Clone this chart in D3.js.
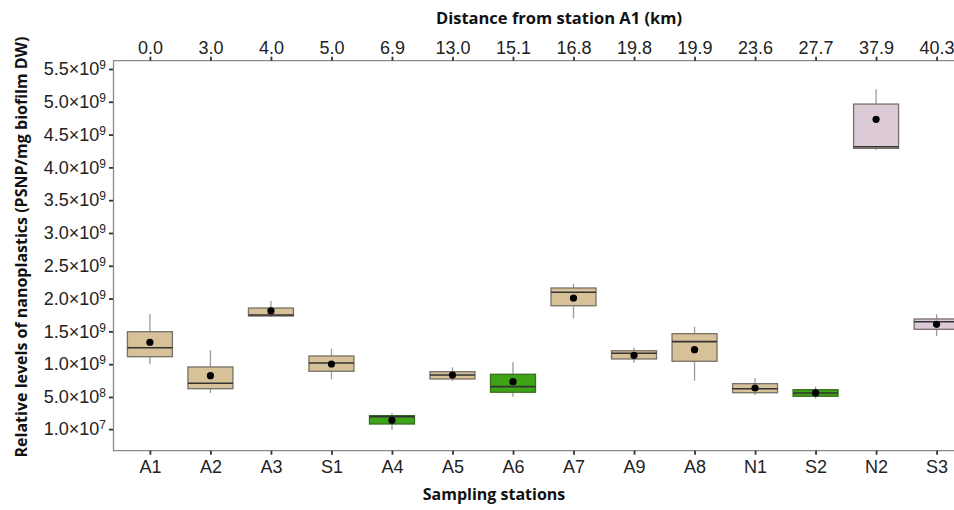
<!DOCTYPE html>
<html>
<head>
<meta charset="utf-8">
<script src="https://cdn.jsdelivr.net/npm/d3@7"></script>
<style>
  body { margin: 0; background: #fff; }
  svg { display: block; font-family: "Open Sans", sans-serif; }
</style>
</head>
<body>
<div id="chart"></div>
<script>
// stations along the river, with their distance from A1
const stations = ["A1", "A2", "A3", "S1", "A4", "A5", "A6", "A7", "A9", "A8", "N1", "S2", "N2", "S3"];
const distances = ["0.0", "3.0", "4.0", "5.0", "6.9", "13.0", "15.1", "16.8", "19.8", "19.9", "23.6", "27.7", "37.9", "40.3"];
const groups = ["tan", "tan", "tan", "tan", "green", "tan", "green", "tan", "tan", "tan", "tan", "green", "pink", "pink"];

// box stats (PSNP/mg biofilm DW)
const whiskerLow = [0.998e9, 0.561e9, 1.72e9, 0.770e9, 0.0e9, 0.744e9, 0.504e9, 1.699e9, 1.023e9, 0.748e9, 0.530e9, 0.48e9, 4.264e9, 1.43e9];
const q1 = [1.114e9, 0.626e9, 1.734e9, 0.892e9, 0.088e9, 0.774e9, 0.572e9, 1.891e9, 1.079e9, 1.044e9, 0.565e9, 0.511e9, 4.29e9, 1.532e9];
const median = [1.251e9, 0.709e9, 1.75e9, 1.018e9, 0.200e9, 0.835e9, 0.657e9, 2.096e9, 1.166e9, 1.343e9, 0.626e9, 0.561e9, 4.314e9, 1.647e9];
const q3 = [1.495e9, 0.957e9, 1.856e9, 1.125e9, 0.215e9, 0.885e9, 0.846e9, 2.161e9, 1.205e9, 1.465e9, 0.703e9, 0.611e9, 4.965e9, 1.689e9];
const whiskerHigh = [1.765e9, 1.212e9, 1.963e9, 1.236e9, 0.251e9, 0.953e9, 1.029e9, 2.222e9, 1.251e9, 1.571e9, 0.789e9, 0.657e9, 5.189e9, 1.76e9];
const means = [1.334e9, 0.824e9, 1.811e9, 1.003e9, 0.145e9, 0.835e9, 0.733e9, 2.009e9, 1.135e9, 1.221e9, 0.637e9, 0.561e9, 4.732e9, 1.608e9];

const yTicks = [1e7, 5e8, 1e9, 1.5e9, 2e9, 2.5e9, 3e9, 3.5e9, 4e9, 4.5e9, 5e9, 5.5e9];

const colors = { tan: "#d6c199", green: "#3fa318", pink: "#dccad6" };

const width = 954, height = 510;
const plotTop = 60.7, plotBottom = 450.7, plotLeft = 113;

const rows = stations.map((s, i) => ({
  station: s, dist: distances[i], group: groups[i],
  lo: whiskerLow[i], q1: q1[i], med: median[i], q3: q3[i], hi: whiskerHigh[i], mean: means[i]
}));

const svg = d3.select("#chart").append("svg")
    .attr("width", width)
    .attr("height", height);

const x = d3.scalePoint()
    .domain(stations)
    .range([plotLeft, 973.5])
    .padding(0.61);

const y = d3.scaleLinear()
    .domain([-0.319e9, 5.626e9])
    .range([plotBottom, plotTop]);

const boxW = 45;

// superscript formatter for the y labels
function sciLabel(sel) {
  sel.each(function(d) {
    const exp = Math.floor(Math.log10(d));
    const mant = (d / Math.pow(10, exp)).toFixed(1);
    const t = d3.select(this).text(null);
    t.append("tspan").text(mant + "\u00d710");
    t.append("tspan").attr("dy", "-0.5em").attr("font-size", "12px").text(exp);
  });
}

// axes
const yAxis = svg.append("g")
    .attr("transform", `translate(${plotLeft},0)`)
    .call(d3.axisLeft(y).tickValues(yTicks).tickSize(4).tickPadding(3).tickSizeOuter(0));

const xAxis = svg.append("g")
    .attr("transform", `translate(0,${plotBottom})`)
    .call(d3.axisBottom(x).tickSize(4).tickPadding(6).tickSizeOuter(0));

const topAxis = svg.append("g")
    .attr("transform", `translate(0,${plotTop})`)
    .call(d3.axisTop(x).tickSize(4).tickPadding(3).tickSizeOuter(0)
      .tickFormat((d, i) => distances[i]));

[yAxis, xAxis, topAxis].forEach(g => {
  g.select(".domain").attr("stroke", "#8a8a8a").attr("stroke-width", 1.3);
  g.selectAll(".tick line").attr("stroke", "#333").attr("stroke-width", 1.8);
  g.selectAll(".tick text").attr("fill", "#222").attr("font-size", "18px");
});
yAxis.selectAll(".tick text").call(sciLabel);

// top and bottom axis lines run to the right edge
topAxis.select(".domain").attr("d", `M${plotLeft},0H${width}`);
xAxis.select(".domain").attr("d", `M${plotLeft},0H${width}`);

// boxes
const box = svg.append("g").selectAll("g")
    .data(rows)
    .join("g")
    .attr("transform", d => `translate(${x(d.station)},0)`);

box.append("line")
    .attr("y1", d => y(d.hi))
    .attr("y2", d => y(d.lo))
    .attr("stroke", "#9a9a9a")
    .attr("stroke-width", 1.3);

box.append("rect")
    .attr("x", -boxW / 2)
    .attr("width", boxW)
    .attr("y", d => y(d.q3))
    .attr("height", d => y(d.q1) - y(d.q3))
    .attr("fill", d => colors[d.group])
    .attr("stroke", d => d.group == "green" ? "#3a6e22" : "#777066")
    .attr("stroke-width", 1.3);

box.append("line")
    .attr("x1", -boxW / 2)
    .attr("x2", boxW / 2)
    .attr("y1", d => y(d.med))
    .attr("y2", d => y(d.med))
    .attr("stroke", "#333")
    .attr("stroke-width", 1.6);

box.append("circle")
    .attr("cy", d => y(d.mean))
    .attr("r", 3.6)
    .attr("fill", "#000");

// titles
svg.append("text")
    .attr("x", 559).attr("y", 24)
    .attr("text-anchor", "middle")
    .attr("font-weight", "bold")
    .attr("font-size", "16.5px")
    .attr("fill", "#111")
    .text("Distance from station A1 (km)");

svg.append("text")
    .attr("x", 494).attr("y", 500)
    .attr("text-anchor", "middle")
    .attr("font-weight", "bold")
    .attr("font-size", "16px")
    .attr("fill", "#111")
    .text("Sampling stations");

svg.append("text")
    .attr("transform", "translate(27,247) rotate(-90)")
    .attr("text-anchor", "middle")
    .attr("font-weight", "bold")
    .attr("font-size", "16px")
    .attr("fill", "#111")
    .text("Relative levels of nanoplastics (PSNP/mg biofilm DW)");
</script>
</body>
</html>
